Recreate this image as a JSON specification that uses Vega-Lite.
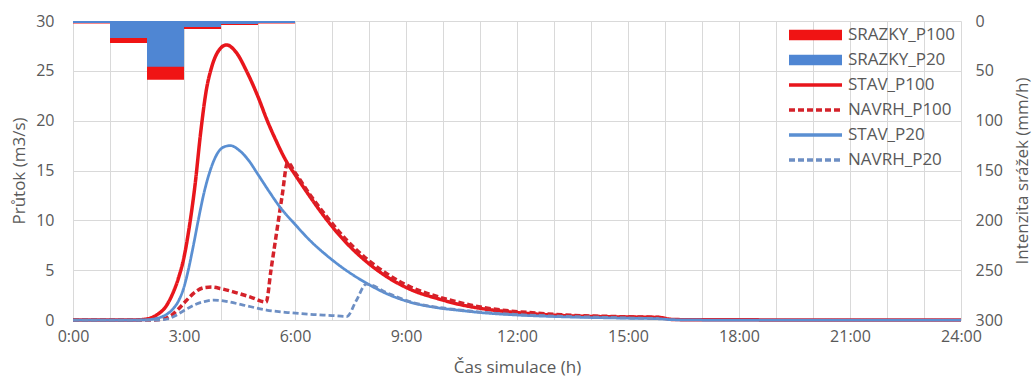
{
  "$schema": "https://vega.github.io/schema/vega-lite/v6.json",
  "width": 888,
  "height": 299,
  "autosize": {"type": "none"},
  "padding": {"left": 73, "top": 21, "right": 71, "bottom": 58},
  "background": "white",
  "config": {
    "view": {"stroke": null},
    "font": "Open Sans",
    "axis": {
      "labelFont": "Open Sans",
      "labelFontSize": 16,
      "labelColor": "#595959",
      "titleFont": "Open Sans",
      "titleFontSize": 17,
      "titleFontWeight": "normal",
      "titleColor": "#595959",
      "gridColor": "#d9d9d9",
      "gridWidth": 1,
      "ticks": false,
      "domain": false,
      "labelFlush": false,
      "labelOverlap": false
    },
    "legend": {
      "orient": "top-right",
      "offset": 0,
      "padding": 5,
      "labelFont": "Open Sans",
      "labelFontSize": 17,
      "labelColor": "#595959",
      "symbolType": "stroke",
      "symbolSize": 2809,
      "symbolStrokeWidth": 3,
      "clipHeight": 18,
      "rowPadding": 7,
      "symbolOffset": 27,
      "labelOffset": 24
    }
  },
  "datasets": {
    "rain": [
      {"serie": "SRAZKY_P100", "t0": 0, "t1": 1, "i": 2.5},
      {"serie": "SRAZKY_P100", "t0": 1, "t1": 2, "i": 22},
      {"serie": "SRAZKY_P100", "t0": 2, "t1": 3, "i": 59},
      {"serie": "SRAZKY_P100", "t0": 3, "t1": 4, "i": 8},
      {"serie": "SRAZKY_P100", "t0": 4, "t1": 5, "i": 4},
      {"serie": "SRAZKY_P100", "t0": 5, "t1": 6, "i": 2.5},
      {"serie": "SRAZKY_P20", "t0": 0, "t1": 1, "i": 2},
      {"serie": "SRAZKY_P20", "t0": 1, "t1": 2, "i": 17},
      {"serie": "SRAZKY_P20", "t0": 2, "t1": 3, "i": 46},
      {"serie": "SRAZKY_P20", "t0": 3, "t1": 4, "i": 6},
      {"serie": "SRAZKY_P20", "t0": 4, "t1": 5, "i": 3},
      {"serie": "SRAZKY_P20", "t0": 5, "t1": 6, "i": 2}
    ],
    "flow": [
      {"serie": "STAV_P100", "t": 0, "q": 0},
      {"serie": "STAV_P100", "t": 1, "q": 0},
      {"serie": "STAV_P100", "t": 1.6, "q": 0},
      {"serie": "STAV_P100", "t": 1.9, "q": 0.05},
      {"serie": "STAV_P100", "t": 2.1, "q": 0.2},
      {"serie": "STAV_P100", "t": 2.3, "q": 0.6},
      {"serie": "STAV_P100", "t": 2.5, "q": 1.3},
      {"serie": "STAV_P100", "t": 2.7, "q": 2.7},
      {"serie": "STAV_P100", "t": 2.85, "q": 4.2},
      {"serie": "STAV_P100", "t": 3.0, "q": 6.3},
      {"serie": "STAV_P100", "t": 3.15, "q": 9.5},
      {"serie": "STAV_P100", "t": 3.3, "q": 13.6},
      {"serie": "STAV_P100", "t": 3.45, "q": 18.8},
      {"serie": "STAV_P100", "t": 3.6, "q": 23.0},
      {"serie": "STAV_P100", "t": 3.75, "q": 25.4},
      {"serie": "STAV_P100", "t": 3.95, "q": 27.1},
      {"serie": "STAV_P100", "t": 4.15, "q": 27.6},
      {"serie": "STAV_P100", "t": 4.4, "q": 26.9},
      {"serie": "STAV_P100", "t": 4.7, "q": 24.9},
      {"serie": "STAV_P100", "t": 5.0, "q": 22.4},
      {"serie": "STAV_P100", "t": 5.25, "q": 20.0},
      {"serie": "STAV_P100", "t": 5.5, "q": 17.9},
      {"serie": "STAV_P100", "t": 5.77, "q": 15.9},
      {"serie": "STAV_P100", "t": 6.0, "q": 14.6},
      {"serie": "STAV_P100", "t": 6.4, "q": 12.4},
      {"serie": "STAV_P100", "t": 6.85, "q": 10.1},
      {"serie": "STAV_P100", "t": 7.4, "q": 7.7},
      {"serie": "STAV_P100", "t": 7.95, "q": 5.8},
      {"serie": "STAV_P100", "t": 8.5, "q": 4.3},
      {"serie": "STAV_P100", "t": 9.1, "q": 3.1},
      {"serie": "STAV_P100", "t": 9.9, "q": 2.1},
      {"serie": "STAV_P100", "t": 10.4, "q": 1.6},
      {"serie": "STAV_P100", "t": 10.8, "q": 1.3},
      {"serie": "STAV_P100", "t": 11.7, "q": 0.85},
      {"serie": "STAV_P100", "t": 12.5, "q": 0.6},
      {"serie": "STAV_P100", "t": 13.2, "q": 0.45},
      {"serie": "STAV_P100", "t": 14.5, "q": 0.32},
      {"serie": "STAV_P100", "t": 15.85, "q": 0.25},
      {"serie": "STAV_P100", "t": 16.2, "q": 0.05},
      {"serie": "STAV_P100", "t": 17, "q": 0.02},
      {"serie": "STAV_P100", "t": 24, "q": 0},
      {"serie": "NAVRH_P100", "t": 0, "q": 0},
      {"serie": "NAVRH_P100", "t": 1, "q": 0},
      {"serie": "NAVRH_P100", "t": 2.2, "q": 0},
      {"serie": "NAVRH_P100", "t": 2.45, "q": 0.1},
      {"serie": "NAVRH_P100", "t": 2.65, "q": 0.45},
      {"serie": "NAVRH_P100", "t": 2.85, "q": 1.1},
      {"serie": "NAVRH_P100", "t": 3.05, "q": 1.9},
      {"serie": "NAVRH_P100", "t": 3.3, "q": 2.8},
      {"serie": "NAVRH_P100", "t": 3.55, "q": 3.25},
      {"serie": "NAVRH_P100", "t": 3.75, "q": 3.3},
      {"serie": "NAVRH_P100", "t": 4.0, "q": 3.15},
      {"serie": "NAVRH_P100", "t": 4.4, "q": 2.75},
      {"serie": "NAVRH_P100", "t": 4.8, "q": 2.3},
      {"serie": "NAVRH_P100", "t": 5.22, "q": 1.8},
      {"serie": "NAVRH_P100", "t": 5.35, "q": 5.0},
      {"serie": "NAVRH_P100", "t": 5.5, "q": 8.7},
      {"serie": "NAVRH_P100", "t": 5.65, "q": 12.4},
      {"serie": "NAVRH_P100", "t": 5.8, "q": 15.8},
      {"serie": "NAVRH_P100", "t": 6.0, "q": 14.8},
      {"serie": "NAVRH_P100", "t": 6.4, "q": 12.6},
      {"serie": "NAVRH_P100", "t": 6.85, "q": 10.4},
      {"serie": "NAVRH_P100", "t": 7.4, "q": 8.0},
      {"serie": "NAVRH_P100", "t": 7.95, "q": 6.1},
      {"serie": "NAVRH_P100", "t": 8.5, "q": 4.6},
      {"serie": "NAVRH_P100", "t": 9.1, "q": 3.35},
      {"serie": "NAVRH_P100", "t": 9.9, "q": 2.3},
      {"serie": "NAVRH_P100", "t": 10.4, "q": 1.8},
      {"serie": "NAVRH_P100", "t": 10.8, "q": 1.45},
      {"serie": "NAVRH_P100", "t": 11.7, "q": 0.95},
      {"serie": "NAVRH_P100", "t": 12.5, "q": 0.7},
      {"serie": "NAVRH_P100", "t": 13.2, "q": 0.52},
      {"serie": "NAVRH_P100", "t": 14.5, "q": 0.36},
      {"serie": "NAVRH_P100", "t": 15.85, "q": 0.27},
      {"serie": "STAV_P20", "t": 0, "q": 0},
      {"serie": "STAV_P20", "t": 1, "q": 0},
      {"serie": "STAV_P20", "t": 1.8, "q": 0},
      {"serie": "STAV_P20", "t": 2.1, "q": 0.05},
      {"serie": "STAV_P20", "t": 2.3, "q": 0.2},
      {"serie": "STAV_P20", "t": 2.5, "q": 0.5},
      {"serie": "STAV_P20", "t": 2.7, "q": 1.1},
      {"serie": "STAV_P20", "t": 2.85, "q": 1.9},
      {"serie": "STAV_P20", "t": 3.0, "q": 3.3},
      {"serie": "STAV_P20", "t": 3.11, "q": 4.9},
      {"serie": "STAV_P20", "t": 3.25, "q": 7.4},
      {"serie": "STAV_P20", "t": 3.38, "q": 9.9},
      {"serie": "STAV_P20", "t": 3.55, "q": 12.9},
      {"serie": "STAV_P20", "t": 3.7, "q": 14.9},
      {"serie": "STAV_P20", "t": 3.9, "q": 16.7},
      {"serie": "STAV_P20", "t": 4.1, "q": 17.4},
      {"serie": "STAV_P20", "t": 4.25, "q": 17.5},
      {"serie": "STAV_P20", "t": 4.5, "q": 17.0},
      {"serie": "STAV_P20", "t": 4.75, "q": 16.0},
      {"serie": "STAV_P20", "t": 5.0, "q": 14.6},
      {"serie": "STAV_P20", "t": 5.3, "q": 12.9},
      {"serie": "STAV_P20", "t": 5.6, "q": 11.3},
      {"serie": "STAV_P20", "t": 6.0, "q": 9.6},
      {"serie": "STAV_P20", "t": 6.4, "q": 8.0},
      {"serie": "STAV_P20", "t": 6.85, "q": 6.5},
      {"serie": "STAV_P20", "t": 7.3, "q": 5.2},
      {"serie": "STAV_P20", "t": 7.93, "q": 3.7},
      {"serie": "STAV_P20", "t": 8.5, "q": 2.6},
      {"serie": "STAV_P20", "t": 9.1, "q": 1.8},
      {"serie": "STAV_P20", "t": 9.9, "q": 1.2},
      {"serie": "STAV_P20", "t": 10.36, "q": 1.0},
      {"serie": "STAV_P20", "t": 11, "q": 0.75},
      {"serie": "STAV_P20", "t": 12, "q": 0.5},
      {"serie": "STAV_P20", "t": 13, "q": 0.35},
      {"serie": "STAV_P20", "t": 14, "q": 0.25},
      {"serie": "STAV_P20", "t": 15, "q": 0.18},
      {"serie": "STAV_P20", "t": 15.85, "q": 0.12},
      {"serie": "STAV_P20", "t": 16.2, "q": 0.03},
      {"serie": "STAV_P20", "t": 17, "q": 0},
      {"serie": "STAV_P20", "t": 24, "q": 0},
      {"serie": "NAVRH_P20", "t": 0, "q": 0},
      {"serie": "NAVRH_P20", "t": 1, "q": 0},
      {"serie": "NAVRH_P20", "t": 2.3, "q": 0},
      {"serie": "NAVRH_P20", "t": 2.55, "q": 0.1},
      {"serie": "NAVRH_P20", "t": 2.75, "q": 0.4},
      {"serie": "NAVRH_P20", "t": 3.0, "q": 0.95},
      {"serie": "NAVRH_P20", "t": 3.3, "q": 1.55},
      {"serie": "NAVRH_P20", "t": 3.55, "q": 1.85},
      {"serie": "NAVRH_P20", "t": 3.8, "q": 2.0},
      {"serie": "NAVRH_P20", "t": 4.1, "q": 1.9},
      {"serie": "NAVRH_P20", "t": 4.6, "q": 1.5},
      {"serie": "NAVRH_P20", "t": 5.23, "q": 1.0},
      {"serie": "NAVRH_P20", "t": 5.8, "q": 0.75},
      {"serie": "NAVRH_P20", "t": 6.5, "q": 0.55},
      {"serie": "NAVRH_P20", "t": 7.0, "q": 0.45},
      {"serie": "NAVRH_P20", "t": 7.4, "q": 0.35},
      {"serie": "NAVRH_P20", "t": 7.65, "q": 1.9},
      {"serie": "NAVRH_P20", "t": 7.93, "q": 3.6},
      {"serie": "NAVRH_P20", "t": 8.5, "q": 2.7},
      {"serie": "NAVRH_P20", "t": 9.1, "q": 1.85},
      {"serie": "NAVRH_P20", "t": 9.9, "q": 1.25},
      {"serie": "NAVRH_P20", "t": 10.36, "q": 1.05},
      {"serie": "NAVRH_P20", "t": 11, "q": 0.8},
      {"serie": "NAVRH_P20", "t": 12, "q": 0.55},
      {"serie": "NAVRH_P20", "t": 13, "q": 0.4},
      {"serie": "NAVRH_P20", "t": 14, "q": 0.3},
      {"serie": "NAVRH_P20", "t": 15, "q": 0.2},
      {"serie": "NAVRH_P20", "t": 15.85, "q": 0.15}
    ]
  },
  "layer": [
    {
      "data": {"name": "rain"},
      "mark": {"type": "bar"},
      "encoding": {
        "x": {
          "field": "t0",
          "type": "quantitative",
          "scale": {"domain": [0, 24], "nice": false},
          "axis": {
            "title": "Čas simulace (h)",
            "values": [0,1,2,3,4,5,6,7,8,9,10,11,12,13,14,15,16,17,18,19,20,21,22,23,24],
            "labelExpr": "datum.value % 3 === 0 ? floor(datum.value) + ':00' : ''",
            "grid": true,
            "labelPadding": 8,
            "titlePadding": 15
          }
        },
        "x2": {"field": "t1"},
        "y": {
          "field": "i",
          "type": "quantitative",
          "scale": {"domain": [0, 300], "reverse": true, "nice": false},
          "axis": {
            "orient": "right",
            "title": "Intenzita srážek (mm/h)",
            "values": [0, 50, 100, 150, 200, 250, 300],
            "grid": false,
            "labelPadding": 14,
            "titlePadding": 29,
            "titleAngle": 270
          }
        },
        "y2": {"datum": 0},
        "fill": {
          "field": "serie",
          "type": "nominal",
          "scale": {"domain": ["SRAZKY_P100", "SRAZKY_P20"], "range": ["#f01414", "#4f86d3"]},
          "legend": null
        }
      }
    },
    {
      "data": {"name": "flow"},
      "mark": {"type": "line", "interpolate": "monotone"},
      "encoding": {
        "x": {
          "field": "t",
          "type": "quantitative",
          "scale": {"domain": [0, 24], "nice": false},
          "axis": {
            "title": "Čas simulace (h)",
            "values": [0,1,2,3,4,5,6,7,8,9,10,11,12,13,14,15,16,17,18,19,20,21,22,23,24],
            "labelExpr": "datum.value % 3 === 0 ? floor(datum.value) + ':00' : ''",
            "grid": true,
            "labelPadding": 8,
            "titlePadding": 15
          }
        },
        "y": {
          "field": "q",
          "type": "quantitative",
          "scale": {"domain": [0, 30], "nice": false},
          "axis": {
            "orient": "left",
            "title": "Průtok (m3/s)",
            "values": [0, 5, 10, 15, 20, 25, 30],
            "grid": true,
            "labelPadding": 19,
            "titlePadding": 7
          }
        },
        "strokeWidth": {
          "condition": {"test": "indexof(datum.serie, 'P100') >= 0", "value": 3.5},
          "value": 2.75
        },
        "stroke": {
          "field": "serie",
          "type": "nominal",
          "scale": {
            "domain": ["SRAZKY_P100", "SRAZKY_P20", "STAV_P100", "NAVRH_P100", "STAV_P20", "NAVRH_P20"],
            "range": ["#f01414", "#4f86d3", "#e8161c", "#d4222a", "#5a8fd2", "#6d8fc4"]
          },
          "legend": {
            "title": null,
            "encode": {
              "symbols": {
                "update": {
                  "shape": {"signal": "test(/SRAZKY/, datum.value) ? 'M-1,-0.2H1V0.2H-1Z' : 'stroke'"},
                  "fill": {"signal": "test(/SRAZKY/, datum.value) ? scale('stroke', datum.value) : 'transparent'"},
                  "strokeWidth": {"signal": "test(/SRAZKY/, datum.value) ? 0 : 3.5"}
                }
              }
            }
          }
        },
        "strokeDash": {
          "field": "serie",
          "type": "nominal",
          "scale": {
            "domain": ["SRAZKY_P100", "SRAZKY_P20", "STAV_P100", "NAVRH_P100", "STAV_P20", "NAVRH_P20"],
            "range": [[1, 0], [1, 0], [1, 0], [6, 3], [1, 0], [6, 3]]
          },
          "legend": {"title": null}
        }
      }
    }
  ],
  "resolve": {"scale": {"y": "independent"}}
}
